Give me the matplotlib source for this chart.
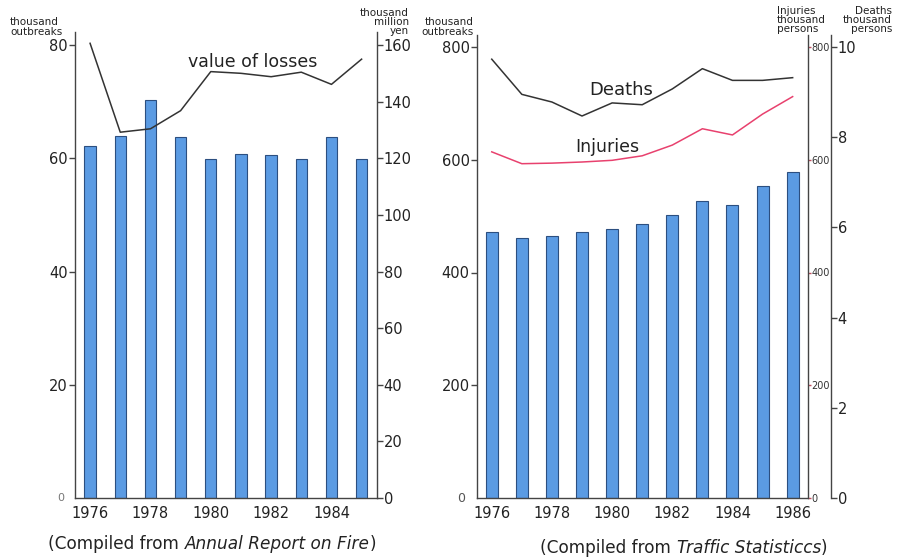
import matplotlib
matplotlib.use("Agg")
import matplotlib.pyplot as plt

plt.rcParams['font.family'] = ['DejaVu Sans']

# ---- data ----
fire_years = [1976, 1977, 1978, 1979, 1980, 1981, 1982, 1983, 1984, 1985]
fire_outbreaks = [62.2, 63.9, 70.3, 63.7, 59.9, 60.8, 60.6, 59.8, 63.8, 59.9]   # thousand
fire_losses = [160.6, 129.2, 130.4, 136.8, 150.6, 150.0, 148.8, 150.4, 146.1, 155.0]  # thousand million yen

traffic_years = [1976, 1977, 1978, 1979, 1980, 1981, 1982, 1983, 1984, 1985, 1986]
traffic_outbreaks = [471, 461, 464, 472, 477, 486, 502, 526, 519, 553, 579]   # thousand
injuries = [614, 593, 594, 596, 599, 607, 626, 655, 644, 681, 712]          # thousand persons
deaths = [9.73, 8.95, 8.78, 8.47, 8.76, 8.72, 9.07, 9.52, 9.26, 9.26, 9.32]  # thousand persons

fire_xticks = [1976, 1978, 1980, 1982, 1984]
traffic_xticks = [1976, 1978, 1980, 1982, 1984, 1986]

BAR = '#5b9be3'
EDGE = '#2c4f80'
DARK = '#333333'
PINK = '#e8416e'
SP = '#444444'

W, H = 899, 558
fig = plt.figure(figsize=(W / 100, H / 100), dpi=100)

def fx(px):
    return px / W

def fy(py):
    return 1 - py / H

def style_axis(ax):
    ax.spines['top'].set_visible(False)
    for s in ax.spines.values():
        s.set_color(SP)
        s.set_linewidth(1.0)

def caption(x, y, parts, size=12.2):
    renderer = fig.canvas.get_renderer()
    texts = []
    for txt, st in parts:
        tt = fig.text(0, fy(y), txt, ha='left', va='center', fontsize=size, style=st, color='#222')
        texts.append(tt)
    widths = [tt.get_window_extent(renderer).width for tt in texts]
    cur = x - sum(widths) / 2
    for tt, w in zip(texts, widths):
        tt.set_x(cur / W)
        cur += w
    return texts

# ---- left panel ----
l, r, b, t = 75, 376.7, 498, 32
ax1 = fig.add_axes([fx(l), fy(b), fx(r) - fx(l), fy(t) - fy(b)])
ax1.bar(fire_years, fire_outbreaks, width=0.38, color=BAR, edgecolor=EDGE, linewidth=0.8)
ax1.set_xlim(1975.5, 1985.5)
ax1.set_ylim(0, 80 * (498 - 32) / (498 - 45))
ax1.set_yticks([20, 40, 60, 80])
ax1.set_xticks(fire_xticks)
ax1.tick_params(axis='y', direction='out', length=4, width=1, color=SP, labelsize=10.5, pad=1, labelcolor='#222')
ax1.tick_params(axis='x', length=0, labelsize=10.5, pad=6, labelcolor='#222')
style_axis(ax1)
ax1.spines['right'].set_visible(False)
ax1.text(-0.035, 0.0, '0', transform=ax1.transAxes, ha='right', va='center', fontsize=8, color='#777')

ax1b = ax1.twinx()
ax1b.plot(fire_years, fire_losses, color=DARK, linewidth=1.1)
ax1b.set_ylim(0, 160 * (498 - 32) / (498 - 45))
ax1b.set_yticks([0, 20, 40, 60, 80, 100, 120, 140, 160])
ax1b.tick_params(axis='y', direction='out', length=4, width=1, color=SP, labelsize=10.5, pad=1, labelcolor='#222')
style_axis(ax1b)
ax1b.spines['left'].set_visible(False)
ax1b.spines['bottom'].set_visible(False)
ax1b.text(1981.4, 154.0, 'value of losses', ha='center', va='center', fontsize=12.5, color='#222')

fig.text(fx(10), fy(27), 'thousand\noutbreaks', ha='left', va='center', fontsize=7.5, linespacing=0.9, color='#222')
fig.text(fx(409), fy(22), 'thousand\nmillion\nyen', ha='right', va='center', fontsize=7.5, linespacing=0.85, color='#222')

caption(212, 544, [('(Compiled from ', 'normal'), ('Annual Report on Fire', 'italic'), (')', 'normal')])

# ---- right panel ----
l2, r2, b2, t2 = 476.7, 807.7, 498, 35
ax2 = fig.add_axes([fx(l2), fy(b2), fx(r2) - fx(l2), fy(t2) - fy(b2)])
top_ratio = (498 - 35) / (498 - 47)
ax2.bar(traffic_years, traffic_outbreaks, width=0.4, color=BAR, edgecolor=EDGE, linewidth=0.8)
ax2.set_xlim(1975.5, 1986.5)
ax2.set_ylim(0, 800 * top_ratio)
ax2.set_yticks([200, 400, 600, 800])
ax2.set_xticks(traffic_xticks)
ax2.tick_params(axis='y', direction='out', length=4, width=1, color=SP, labelsize=10.5, pad=1, labelcolor='#222')
ax2.tick_params(axis='x', length=0, labelsize=10.5, pad=6, labelcolor='#222')
style_axis(ax2)
ax2.spines['right'].set_visible(False)
ax2.text(-0.035, 0.0, '0', transform=ax2.transAxes, ha='right', va='center', fontsize=9, color='#555')

ax2i = ax2.twinx()
ax2i.plot(traffic_years, injuries, color=PINK, linewidth=1.1)
ax2i.set_ylim(0, 800 * top_ratio)
ax2i.set_yticks([0, 200, 400, 600, 800])
ax2i.tick_params(axis='y', direction='out', length=2, width=1, color='#c05060', labelsize=7, pad=0.5, labelcolor='#333')
style_axis(ax2i)
ax2i.spines['left'].set_visible(False)
ax2i.spines['bottom'].set_visible(False)
ax2i.text(1979.85, 622, 'Injuries', ha='center', va='center', fontsize=12.5, color='#222')

ax2d = ax2.twinx()
ax2d.spines['right'].set_position(('axes', 1 + 23 / (r2 - l2)))
ax2d.plot(traffic_years, deaths, color=DARK, linewidth=1.1)
ax2d.set_ylim(0, 10 * top_ratio)
ax2d.set_yticks([0, 2, 4, 6, 8, 10])
ax2d.tick_params(axis='y', direction='out', length=4, width=1, color=SP, labelsize=10.5, pad=1, labelcolor='#222')
style_axis(ax2d)
ax2d.spines['left'].set_visible(False)
ax2d.spines['bottom'].set_visible(False)
ax2d.text(1980.3, 9.05, 'Deaths', ha='center', va='center', fontsize=13, color='#222')

fig.text(fx(474), fy(27), 'thousand\noutbreaks', ha='right', va='center', fontsize=7.5, linespacing=0.9, color='#222')
fig.text(fx(777), fy(20), 'Injuries\nthousand\npersons', ha='left', va='center', fontsize=7.5, linespacing=0.85, color='#222')
fig.text(fx(892), fy(20), 'Deaths\nthousand\npersons', ha='right', va='center', fontsize=7.5, linespacing=0.85, color='#222')

caption(684, 548, [('(Compiled from ', 'normal'), ('Traffic Statisticcs', 'italic'), (')', 'normal')])

fig.savefig('out.png', dpi=100)
